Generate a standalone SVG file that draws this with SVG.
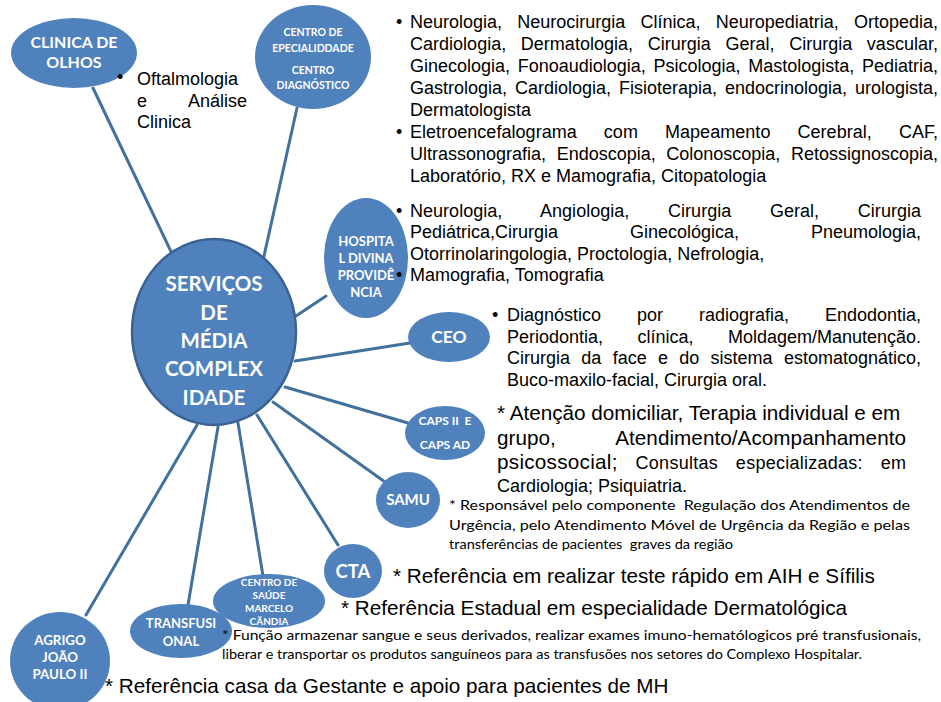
<svg xmlns="http://www.w3.org/2000/svg" width="941" height="702" viewBox="0 0 941 702">
  <style>
    .bg { fill: #ffffff; }
    .conn line { stroke: #41719c; stroke-width: 3; stroke-linecap: round; }
    .node ellipse { fill: #4f81bd; }
    .hub ellipse { fill: #4f81bd; stroke: #3b6292; stroke-width: 2.5; }
    .lbl { font-family: Lato, "Open Sans", "Liberation Sans", sans-serif; font-weight: bold; fill: #ffffff; text-anchor: middle; }
    .t18 { font-family: "Liberation Sans", Arial, sans-serif; font-size: 18px; fill: #000000; }
    .t21 { font-family: "Liberation Sans", Arial, sans-serif; font-size: 20.7px; fill: #000000; }
    .cal { font-family: Lato, "Open Sans", "Liberation Sans", sans-serif; font-size: 13.5px; fill: #000000; }
  </style>
  <rect class="bg" x="0" y="0" width="941" height="702"/>

  <!-- spokes from the hub to each service -->
  <g id="connectors" class="conn">
    <line x1="93" y1="88" x2="176" y2="262"/>
    <line x1="297" y1="108" x2="262" y2="265"/>
    <line x1="326" y1="296" x2="293" y2="318"/>
    <line x1="410" y1="343" x2="295" y2="361"/>
    <line x1="408" y1="423" x2="285" y2="387"/>
    <line x1="385" y1="482" x2="273" y2="402"/>
    <line x1="338" y1="545" x2="257" y2="415"/>
    <line x1="263" y1="576" x2="238" y2="423"/>
    <line x1="188" y1="605" x2="218" y2="427"/>
    <line x1="86" y1="615" x2="197" y2="425"/>
  </g>

  <!-- hub -->
  <g id="hub" class="hub">
    <ellipse cx="214" cy="332" rx="82" ry="93"/>
    <text class="lbl" font-size="20.5"><tspan x="214" y="291">SERVIÇOS</tspan><tspan x="214" y="320">DE</tspan><tspan x="214" y="348">MÉDIA</tspan><tspan x="214" y="376">COMPLEX</tspan><tspan x="214" y="405">IDADE</tspan></text>
  </g>

  <g id="clinica-olhos" class="node">
    <ellipse cx="74" cy="53" rx="63" ry="35"/>
    <text class="lbl" font-size="16"><tspan x="74" y="48">CLINICA DE</tspan><tspan x="74" y="68">OLHOS</tspan></text>
  </g>

  <g id="centro-especialidade" class="node">
    <ellipse cx="313" cy="57" rx="58" ry="52"/>
    <text class="lbl" font-size="10.5"><tspan x="313" y="36">CENTRO DE</tspan><tspan x="313" y="52">EPECIALIDDADE</tspan><tspan x="313" y="74">CENTRO</tspan><tspan x="313" y="89">DIAGNÓSTICO</tspan></text>
  </g>

  <g id="hospital" class="node">
    <ellipse cx="366" cy="258" rx="42" ry="60"/>
    <text class="lbl" font-size="13"><tspan x="366" y="246">HOSPITA</tspan><tspan x="366" y="263">L DIVINA</tspan><tspan x="366" y="280">PROVIDÊ</tspan><tspan x="366" y="297">NCIA</tspan></text>
  </g>

  <g id="ceo" class="node">
    <ellipse cx="449" cy="337" rx="41" ry="25"/>
    <text class="lbl" font-size="17.5" x="449" y="343">CEO</text>
  </g>

  <g id="caps" class="node">
    <ellipse cx="445" cy="433" rx="40" ry="27"/>
    <text class="lbl" font-size="12" xml:space="preserve"><tspan x="445" y="425">CAPS II  E</tspan><tspan x="445" y="449">CAPS AD</tspan></text>
  </g>

  <g id="samu" class="node">
    <ellipse cx="408" cy="500" rx="32" ry="28"/>
    <text class="lbl" font-size="15" x="408" y="505">SAMU</text>
  </g>

  <g id="cta" class="node">
    <ellipse cx="353" cy="571" rx="29" ry="27"/>
    <text class="lbl" font-size="18.5" x="353" y="578">CTA</text>
  </g>

  <g id="centro-saude" class="node">
    <ellipse cx="269" cy="601" rx="56" ry="27"/>
    <text class="lbl" font-size="10"><tspan x="269" y="586">CENTRO DE</tspan><tspan x="269" y="599">SAÚDE</tspan><tspan x="269" y="612">MARCELO</tspan><tspan x="269" y="625">CÃNDIA</tspan></text>
  </g>

  <g id="transfusional" class="node">
    <ellipse cx="181" cy="631" rx="51" ry="27"/>
    <text class="lbl" font-size="13"><tspan x="181" y="628">TRANSFUSI</tspan><tspan x="181" y="646">ONAL</tspan></text>
  </g>

  <g id="agrigo" class="node">
    <ellipse cx="60" cy="661" rx="50" ry="49"/>
    <text class="lbl" font-size="13.3"><tspan x="60" y="645">AGRIGO</tspan><tspan x="60" y="662">JOÃO</tspan><tspan x="60" y="679">PAULO II</tspan></text>
  </g>

  <!-- service descriptions -->
  <g id="txt-clinica">
    <text class="t18" x="117" y="83">•</text>
    <text class="t18" x="137" y="85">Oftalmologia</text>
    <text class="t18" x="137" y="107">e</text>
    <text class="t18" x="247" y="107" text-anchor="end">Análise</text>
    <text class="t18" x="137" y="128">Clinica</text>
  </g>

  <g id="txt-centro">
    <text class="t18" x="396" y="28">•</text>
    <text class="t18" x="410" y="28" word-spacing="10.2" textLength="528" lengthAdjust="spacing">Neurologia, Neurocirurgia Clínica, Neuropediatria, Ortopedia,</text>
    <text class="t18" x="410" y="50" word-spacing="9.6" textLength="528" lengthAdjust="spacing">Cardiologia, Dermatologia, Cirurgia Geral, Cirurgia vascular,</text>
    <text class="t18" x="410" y="72" word-spacing="2.7" textLength="528" lengthAdjust="spacing">Ginecologia, Fonoaudiologia, Psicologia, Mastologista, Pediatria,</text>
    <text class="t18" x="410" y="94" word-spacing="2.9" textLength="528" lengthAdjust="spacing">Gastrologia, Cardiologia, Fisioterapia, endocrinologia, urologista,</text>
    <text class="t18" x="410" y="116">Dermatologista</text>
    <text class="t18" x="396" y="138">•</text>
    <text class="t18" x="410" y="138" word-spacing="22" textLength="528" lengthAdjust="spacing">Eletroencefalograma com Mapeamento Cerebral, CAF,</text>
    <text class="t18" x="410" y="160" word-spacing="5.6" textLength="528" lengthAdjust="spacing">Ultrassonografia, Endoscopia, Colonoscopia, Retossignoscopia,</text>
    <text class="t18" x="410" y="182">Laboratório, RX e Mamografia, Citopatologia</text>
  </g>

  <g id="txt-hospital">
    <text class="t18" x="396" y="217">•</text>
    <text class="t18" x="410" y="217" word-spacing="33.7" textLength="511" lengthAdjust="spacing">Neurologia, Angiologia, Cirurgia Geral, Cirurgia</text>
    <text class="t18" x="410" y="238" word-spacing="67" textLength="511" lengthAdjust="spacing">Pediátrica,Cirurgia Ginecológica, Pneumologia,</text>
    <text class="t18" x="410" y="260">Otorrinolaringologia, Proctologia, Nefrologia,</text>
    <text class="t18" x="396" y="281">•</text>
    <text class="t18" x="410" y="281">Mamografia, Tomografia</text>
  </g>

  <g id="txt-ceo">
    <text class="t18" x="492" y="321">•</text>
    <text class="t18" x="507" y="321" word-spacing="30.9" textLength="414" lengthAdjust="spacing">Diagnóstico por radiografia, Endodontia,</text>
    <text class="t18" x="507" y="343" word-spacing="29.4" textLength="414" lengthAdjust="spacing">Periodontia, clínica, Moldagem/Manutenção.</text>
    <text class="t18" x="507" y="364" word-spacing="6.3" textLength="414" lengthAdjust="spacing">Cirurgia da face e do sistema estomatognático,</text>
    <text class="t18" x="507" y="386">Buco-maxilo-facial, Cirurgia oral.</text>
  </g>

  <g id="txt-caps">
    <text class="t21" x="497" y="420">* Atenção domiciliar, Terapia individual e em</text>
    <text class="t21" x="497" y="445" word-spacing="54.6" textLength="409" lengthAdjust="spacing">grupo, Atendimento/Acompanhamento</text>
    <text class="t21" x="497" y="469" word-spacing="12.6" textLength="409" lengthAdjust="spacing">psicossocial;<tspan font-size="18"> Consultas especializadas: em</tspan></text>
    <text class="t18" x="497" y="492">Cardiologia; Psiquiatria.</text>
  </g>

  <g id="txt-samu">
    <text class="cal" x="449" y="510" xml:space="preserve" textLength="461" lengthAdjust="spacingAndGlyphs">* Responsável pelo componente  Regulação dos Atendimentos de</text>
    <text class="cal" x="449" y="530" textLength="461" lengthAdjust="spacingAndGlyphs">Urgência, pelo Atendimento Móvel de Urgência da Região e pelas</text>
    <text class="cal" x="449" y="549" xml:space="preserve" textLength="284" lengthAdjust="spacingAndGlyphs">transferências de pacientes  graves da região</text>
  </g>

  <g id="txt-cta">
    <text class="t21" x="393" y="583">* Referência em realizar teste rápido em AIH e Sífilis</text>
  </g>

  <g id="txt-centro-saude">
    <text class="t21" x="341" y="615">* Referência Estadual em especialidade Dermatológica</text>
  </g>

  <g id="txt-transfusional">
    <text class="cal" x="222" y="640" textLength="699" lengthAdjust="spacingAndGlyphs">* Função armazenar sangue e seus derivados, realizar exames imuno-hematólogicos pré transfusionais,</text>
    <text class="cal" x="222" y="659" textLength="640" lengthAdjust="spacingAndGlyphs">liberar e transportar os produtos sanguíneos para as transfusões nos setores do Complexo Hospitalar.</text>
  </g>

  <g id="txt-agrigo">
    <text class="t21" x="105" y="693">* Referência casa da Gestante e apoio para pacientes de MH</text>
  </g>
</svg>
